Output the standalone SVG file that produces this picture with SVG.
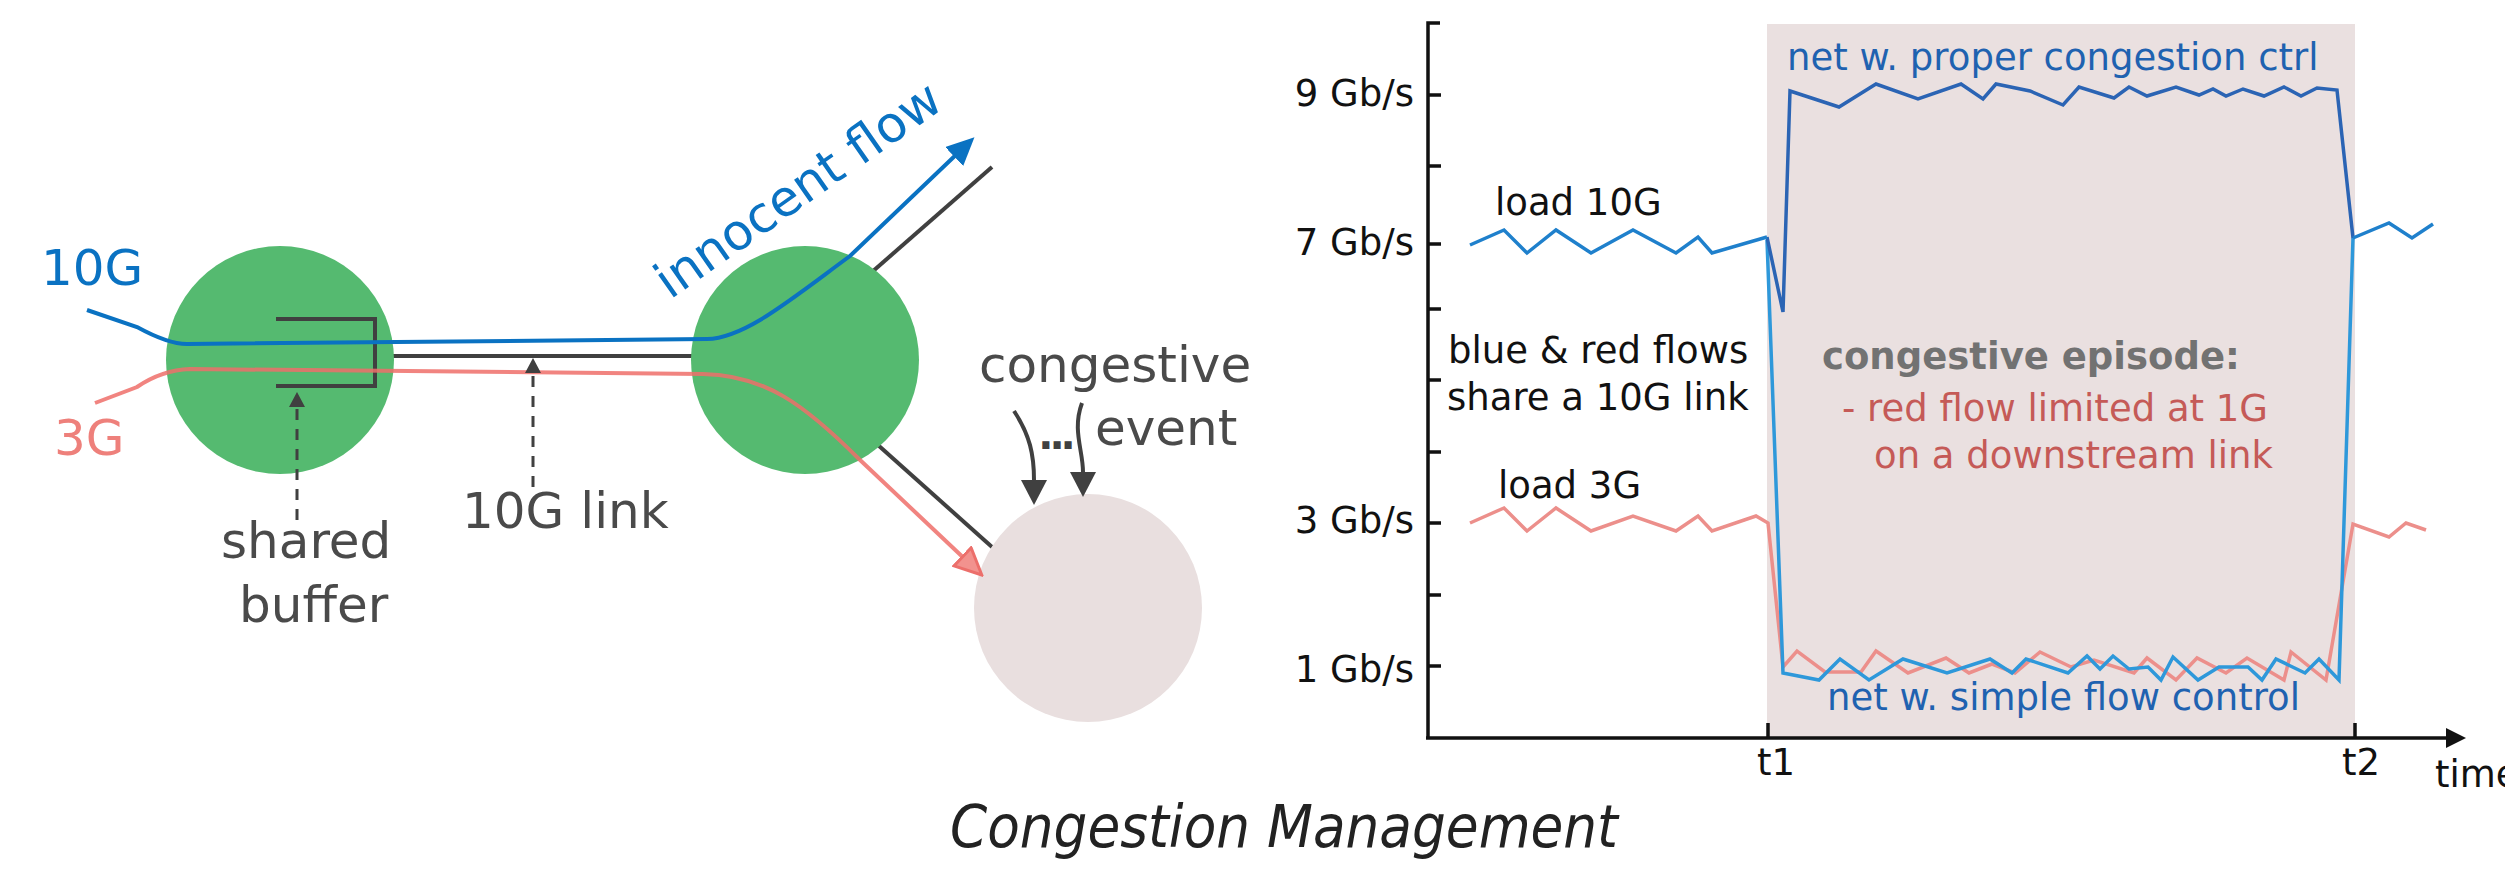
<svg xmlns="http://www.w3.org/2000/svg" width="2505" height="877" viewBox="0 0 2505 877">
<defs>
<style>
text{font-family:"DejaVu Sans","Liberation Sans",sans-serif}
.lbl{font-size:50px;fill:#4a4a4a}
.ax{font-size:37px;fill:#111}
.link{stroke:#404040;stroke-width:4;fill:none}
.dash{stroke:#404040;stroke-width:3;stroke-dasharray:11 9;fill:none}
.ser{fill:none;stroke-linejoin:miter;stroke-width:3.5}
.axis{stroke:#111;stroke-width:3.5;fill:none}
</style>
<marker id="mBlue" markerUnits="userSpaceOnUse" markerWidth="28" markerHeight="26" viewBox="0 0 28 26" refX="8" refY="13" orient="auto"><path d="M0,0 L28,13 L0,26 z" fill="#0A72C2"/></marker>
<marker id="mRed" markerUnits="userSpaceOnUse" markerWidth="30" markerHeight="28" viewBox="0 0 30 28" refX="9" refY="14" orient="auto"><path d="M1.5,1.5 L28,14 L1.5,26.5 z" fill="#F2928E" stroke="#EC6F6B" stroke-width="3"/></marker>
<marker id="mDash" markerUnits="userSpaceOnUse" markerWidth="15" markerHeight="16" viewBox="0 0 15 16" refX="0" refY="8" orient="auto"><path d="M0,0 L15,8 L0,16 z" fill="#404040"/></marker>
<marker id="mBig" markerUnits="userSpaceOnUse" markerWidth="25" markerHeight="26" viewBox="0 0 25 26" refX="0" refY="13" orient="auto"><path d="M0,0 L25,13 L0,26 z" fill="#404040"/></marker>
<marker id="mAxis" markerUnits="userSpaceOnUse" markerWidth="20" markerHeight="20" viewBox="0 0 20 20" refX="0" refY="10" orient="auto"><path d="M0,0 L20,10 L0,20 z" fill="#111"/></marker>
</defs>

<g id="links">
<path class="link" d="M375,356 L700,356"/>
<path class="link" d="M840,300 L992,167"/>
<path class="link" d="M850,420 L992,547"/>
</g>

<g id="switch1"><circle cx="280" cy="360" r="114" fill="#55BA70"/></g>
<g id="switch2"><circle cx="805" cy="360" r="114" fill="#55BA70"/></g>
<g id="dest"><circle cx="1088" cy="608" r="114" fill="#E9DFDF"/></g>

<g id="buffer"><path d="M276,319 L375,319 L375,386 L276,386" class="link"/></g>

<g id="connectors">
<path d="M87,310 L137,327 Q168,344 187,344 L707,339 C745,338 790,300 850,256 L960,151" fill="none" stroke="#0A72C2" stroke-width="4" marker-end="url(#mBlue)"/>
<path d="M95,403 L137,387 Q162,370 190,369 L703,374 C765,375 805,405 859,459 L968,562" fill="none" stroke="#EE6E6A" stroke-opacity="0.85" stroke-width="4" marker-end="url(#mRed)"/>
<path class="dash" d="M297,520 L297,407" marker-end="url(#mDash)"/>
<path class="dash" d="M533,487 L533,373" marker-end="url(#mDash)"/>
<path d="M1014,411 C1030,435 1034,455 1034,480" fill="none" stroke="#404040" stroke-width="4" marker-end="url(#mBig)"/>
<path d="M1082,403 C1072,430 1083,450 1083,472" fill="none" stroke="#404040" stroke-width="4" marker-end="url(#mBig)"/>
</g>

<g id="left-labels">
<text x="41" y="285" font-size="50" fill="#0A72C2">10G</text>
<text x="54" y="455" font-size="50" fill="#EE807B">3G</text>
<text class="lbl" x="221" y="558">shared</text>
<text class="lbl" x="239" y="622">buffer</text>
<text class="lbl" x="462" y="528">10G link</text>
<text class="lbl" x="979" y="382">congestive</text>
<text class="lbl" x="1095" y="445">event</text>
<text x="1055" y="449" font-size="40" font-weight="bold" fill="#404040" text-anchor="middle" letter-spacing="-4">...</text>
<text x="0" y="0" font-size="50" fill="#0A72C2" transform="translate(670,300) rotate(-35)">innocent flow</text>
</g>

<g id="chart">
<rect x="1767" y="24" width="588" height="714" fill="#EAE0E0"/>
<path class="axis" d="M1440,23 L1428,23 L1428,738"/>
<path class="axis" d="M1426,738 L2446,738" marker-end="url(#mAxis)"/>
<path class="axis" d="M1428,95 H1441 M1428,166 H1441 M1428,244 H1441 M1428,309 H1441 M1428,380 H1441 M1428,452 H1441 M1428,523 H1441 M1428,595 H1441 M1428,666 H1441 M1768,738 V723 M2355,738 V723"/>
<polyline class="ser" stroke="#EC8F8B" stroke-width="3" points="1470,523 1504,508 1527,531 1556,508 1591,531 1633,516 1676,531 1698,516 1712,531 1756,516 1768,523 1783,667 1797,651 1825,672 1861,672 1876,651 1908,673 1946,658 1969,673 1992,664 2015,673 2040,652 2071,667 2094,660 2134,673 2147,658 2176,680 2197,658 2226,673 2247,658 2284,680 2291,652 2326,680 2353,524 2389,537 2406,523 2426,530"/>
<polyline class="ser" stroke="#2E98DA" points="1767,240 1783,673 1819,680 1840,659 1869,680 1903,659 1947,673 1990,659 2012,673 2026,659 2068,673 2087,656 2100,669 2113,656 2129,669 2148,667 2161,680 2173,657 2198,680 2219,667 2248,667 2262,680 2276,659 2305,673 2319,659 2339,680 2353,238"/>
<polyline class="ser" stroke="#2B64B4" points="1767,237 1783,312 1790,91 1839,107 1876,84 1918,99 1961,84 1983,99 1996,84 2030,91 2063,105 2079,87 2114,98 2129,87 2147,96 2176,87 2199,95 2213,89 2226,96 2243,89 2264,96 2284,87 2301,96 2317,88 2337,90 2353,238"/>
<polyline class="ser" stroke="#1F80CC" points="1470,245 1504,230 1527,253 1556,230 1591,253 1633,230 1676,253 1698,237 1712,253 1767,237"/>
<polyline class="ser" stroke="#1F80CC" points="2353,238 2389,223 2412,238 2433,224"/>
<g class="ax" text-anchor="end">
<text x="1414" y="106">9 Gb/s</text>
<text x="1414" y="255">7 Gb/s</text>
<text x="1414" y="533">3 Gb/s</text>
<text x="1414" y="682">1 Gb/s</text>
</g>
<text class="ax" x="1757" y="775">t1</text>
<text class="ax" x="2342" y="775">t2</text>
<text class="ax" x="2435" y="787">time</text>
<text class="ax" x="1495" y="215">load 10G</text>
<text class="ax" x="1498" y="498">load 3G</text>
<text class="ax" x="1448" y="363">blue &amp; red flows</text>
<text class="ax" x="1447" y="410">share a 10G link</text>
<text class="ax" x="1787" y="70" style="fill:#1F62B0">net w. proper congestion ctrl</text>
<text class="ax" x="1827" y="710" style="fill:#1F62B0">net w. simple flow control</text>
<text class="ax" x="1822" y="369" font-weight="bold" style="fill:#727272">congestive episode:</text>
<text class="ax" x="1842" y="421" style="fill:#C55A57">- red flow limited at 1G</text>
<text class="ax" x="1874" y="468" style="fill:#C55A57">on a downstream link</text>
</g>

<g id="title">
<text x="950" y="847" font-family="Open Sans, sans-serif" font-style="italic" font-size="58" fill="#222" textLength="668" lengthAdjust="spacingAndGlyphs">Congestion Management</text>
</g>
</svg>
